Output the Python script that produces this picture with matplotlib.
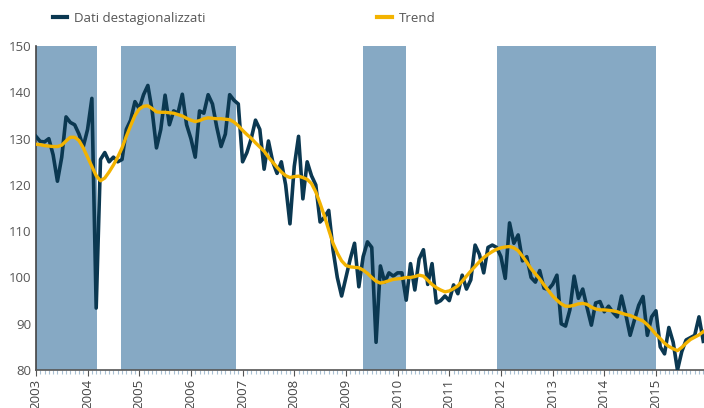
import numpy as np
import matplotlib
matplotlib.use("Agg")
import matplotlib.pyplot as plt
from matplotlib.lines import Line2D

plt.rcParams['font.family'] = ['Open Sans', 'DejaVu Sans']

# monthly data, Jan 2003 - Dec 2015
dati = [
    130.5, 129.4, 129.3, 130.0, 126.5, 120.8, 126.0, 134.7, 133.5, 133.0, 131.0, 128.3,  # 2003
    132.0, 138.7, 93.4, 125.5, 127.0, 125.0, 126.0, 125.0, 125.5, 132.0, 134.0, 138.0,  # 2004
    136.5, 139.5, 141.5, 136.0, 128.0, 132.0, 139.4, 133.0, 136.0, 135.5, 139.6, 133.0,  # 2005
    130.0, 126.0, 136.0, 135.5, 139.5, 137.5, 132.5, 128.3, 131.0, 139.5, 138.3, 137.5,  # 2006
    125.0, 127.0, 130.0, 134.0, 132.0, 123.4, 129.5, 125.0, 122.5, 125.0, 120.0, 111.6,  # 2007
    124.0, 130.5, 117.0, 125.0, 122.0, 120.0, 112.0, 113.0, 114.5, 106.0, 100.0, 96.0,   # 2008
    100.0, 104.0, 107.4, 98.0, 104.5, 107.7, 106.5, 86.0, 102.5, 99.0, 101.0, 100.3,     # 2009
    101.0, 101.0, 95.1, 103.0, 97.3, 104.0, 106.0, 98.5, 103.0, 94.5, 95.0, 96.0,        # 2010
    95.0, 98.4, 96.5, 100.5, 97.5, 99.5, 107.0, 105.0, 101.0, 106.5, 107.0, 106.5,       # 2011
    104.5, 99.8, 111.8, 107.4, 109.2, 103.6, 104.5, 100.0, 99.0, 101.5, 97.7, 97.4,      # 2012
    98.5, 100.5, 90.0, 89.5, 93.0, 100.3, 95.5, 97.5, 93.5, 89.7, 94.5, 94.8,            # 2013
    92.6, 93.8, 92.5, 91.5, 96.0, 92.0, 87.5, 90.8, 94.0, 95.9, 87.5, 91.5,              # 2014
    92.8, 85.0, 83.5, 89.2, 86.0, 80.0, 84.0, 86.5, 87.0, 87.5, 91.5, 86.2,              # 2015
]

trend = [
    128.8, 128.7, 128.5, 128.4, 128.3, 128.3, 128.6, 129.5, 130.3, 130.3, 129.6, 128.0,
    126.0, 124.0, 122.0, 120.9, 121.5, 122.8, 124.3, 126.0, 128.0, 130.5, 132.8, 135.0,
    136.4, 137.0, 137.1, 136.5, 135.8, 135.7, 135.7, 135.6, 135.5, 135.2, 134.9, 134.4,
    134.0, 133.7, 133.9, 134.3, 134.5, 134.4, 134.3, 134.3, 134.2, 134.1, 133.6, 132.8,
    131.8, 130.9, 130.1, 129.1, 128.2, 127.3, 126.0, 124.9, 123.8, 122.8, 122.0, 121.6,
    121.8, 121.9, 121.6, 121.2, 120.3, 118.5, 116.0, 113.3, 110.3, 107.4, 105.3, 103.6,
    102.6, 102.3, 102.2, 102.1, 101.6, 100.9, 100.0, 99.2, 98.8, 99.0, 99.3, 99.6,
    99.7, 99.8, 100.0, 100.0, 100.2, 100.5, 100.3, 99.4, 98.5, 97.8, 97.3, 96.9,
    97.1, 97.6, 98.2, 99.2, 100.3, 101.4, 102.4, 103.4, 104.3, 105.0, 105.6, 106.1,
    106.4, 106.6, 106.7, 106.4, 105.8, 104.6, 103.3, 101.9, 100.8, 99.7, 98.4, 97.2,
    96.0, 95.1, 94.3, 93.8, 93.8, 94.0, 94.3, 94.4, 94.2, 93.6, 93.2, 93.0,
    93.0, 92.9, 92.8, 92.6, 92.3, 92.0, 91.8, 91.4, 91.0, 90.6, 89.8, 88.8,
    87.7, 86.8, 85.8, 85.1, 84.6, 84.2, 84.9, 85.8, 86.6, 87.1, 87.6, 88.3,
]

# shaded periods (decimal years)
shade_start = [2003.0, 2004.645, 2009.33, 2011.92]
shade_end = [2004.18, 2006.87, 2010.16, 2015.0]

years = list(range(2003, 2016))

x = 2003 + np.arange(len(dati)) / 12.0

fig = plt.figure(figsize=(7.04, 4.08), dpi=100)
ax = fig.add_axes([0.051, 0.093, 0.949, 0.794])

for s, e in zip(shade_start, shade_end):
    ax.axvspan(s, e, color='#86a9c4', lw=0, zorder=1)

ax.plot(x, dati, color='#0b3851', lw=2.6, solid_joinstyle='round', zorder=3)
ax.plot(x, trend, color='#f3b300', lw=2.4, solid_joinstyle='round', zorder=4)

ax.set_xlim(2003, 2015.93)
ax.set_ylim(80, 150)
ax.set_yticks(range(80, 151, 10))
ax.set_xticks(years)
ax.set_xticklabels([str(y) for y in years], rotation=90)
ax.set_xticks(2003 + np.arange(156) / 12.0, minor=True)

for sp in ['top', 'right']:
    ax.spines[sp].set_visible(False)
ax.spines['left'].set_color('#444444')
ax.spines['bottom'].set_color('#555555')
ax.spines['left'].set_linewidth(1.2)
ax.spines['bottom'].set_linewidth(1.2)

ax.tick_params(axis='y', length=0, labelsize=9.5, labelcolor='#555555', pad=3)
ax.tick_params(axis='x', which='major', length=4, color='#555555', labelsize=9.5,
               labelcolor='#444444', pad=2)
ax.tick_params(axis='x', which='minor', length=3, color='#a9c0d3', width=0.8)

h1 = [Line2D([], [], color='#0b3851', lw=3)]
h2 = [Line2D([], [], color='#f3b300', lw=3)]
fig.legend(h1, ['Dati destagionalizzati'], loc='center left', bbox_to_anchor=(0.058, 0.955),
           frameon=False, fontsize=9.5, handlelength=1.1, handletextpad=0.5, labelcolor='#555555')
fig.legend(h2, ['Trend'], loc='center left', bbox_to_anchor=(0.519, 0.955),
           frameon=False, fontsize=9.5, handlelength=1.1, handletextpad=0.5, labelcolor='#555555')

fig.savefig('out.png', dpi=100)
